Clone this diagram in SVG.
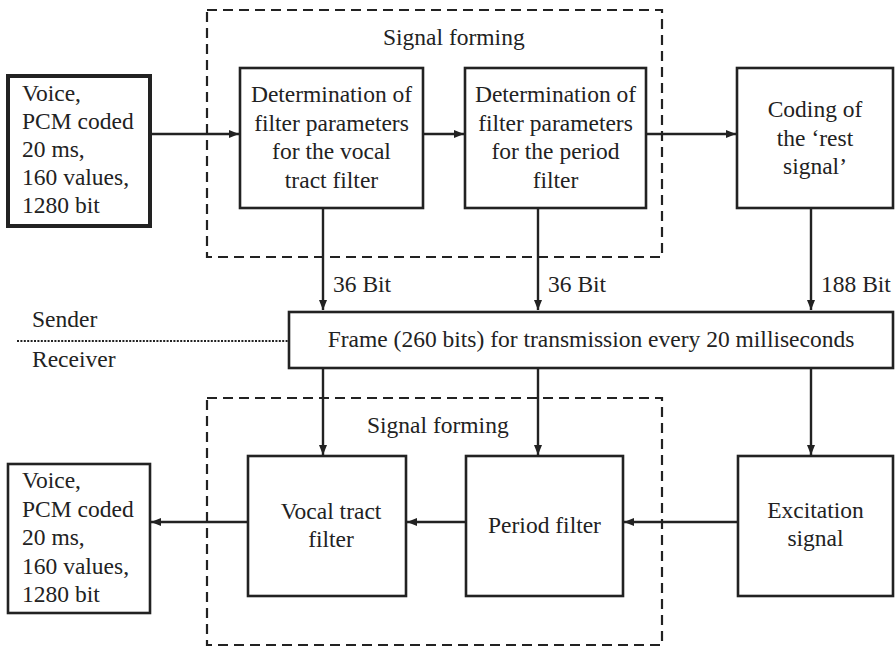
<svg xmlns="http://www.w3.org/2000/svg" width="895" height="647" viewBox="0 0 895 647">
  <defs>
    <marker id="arrow" viewBox="0 0 10 8" refX="10" refY="4" markerWidth="10" markerHeight="8" markerUnits="userSpaceOnUse" orient="auto">
      <path d="M0,0 L10,4 L0,8 z" fill="#222"/>
    </marker>
    <style>
      text { font-family: 'Liberation Serif', 'Times New Roman', serif; font-size: 23.5px; fill: #222; }
      .c { text-anchor: middle; }
      .box { fill: #fff; stroke: #222; stroke-width: 2.6; }
      .thick { stroke-width: 4; }
      .group { fill: none; stroke: #222; stroke-width: 2.2; stroke-dasharray: 10 6; }
      .link { fill: none; stroke: #222; stroke-width: 2.4; marker-end: url(#arrow); }
      .sep { fill: none; stroke: #222; stroke-width: 2; stroke-dasharray: 2 1.4; }
    </style>
  </defs>

  <rect width="895" height="647" fill="#fff"/>

  <!-- signal forming regions -->
  <g id="sender-forming">
    <rect class="group" x="207" y="10" width="455" height="247"/>
    <text x="383" y="45">Signal forming</text>
  </g>
  <g id="receiver-forming">
    <rect class="group" x="207" y="398" width="455" height="247"/>
    <text x="367" y="433">Signal forming</text>
  </g>

  <!-- sender / receiver divider -->
  <g id="divider">
    <line class="sep" x1="17" y1="341" x2="289" y2="341"/>
    <text x="32" y="327">Sender</text>
    <text x="32" y="367">Receiver</text>
  </g>

  <!-- connectors -->
  <g id="connectors">
    <line class="link" x1="150" y1="134" x2="239" y2="134"/>
    <line class="link" x1="423" y1="134" x2="464" y2="134"/>
    <line class="link" x1="646" y1="134" x2="736" y2="134"/>
    <line class="link" x1="323" y1="208" x2="323" y2="310"/>
    <line class="link" x1="538" y1="208" x2="538" y2="310"/>
    <line class="link" x1="811" y1="208" x2="811" y2="310"/>
    <line class="link" x1="323" y1="368" x2="323" y2="455"/>
    <line class="link" x1="538" y1="368" x2="538" y2="455"/>
    <line class="link" x1="811" y1="368" x2="811" y2="455"/>
    <line class="link" x1="738" y1="522" x2="624" y2="522"/>
    <line class="link" x1="466" y1="522" x2="407" y2="522"/>
    <line class="link" x1="248" y1="522" x2="151" y2="522"/>
    <text x="333" y="292">36 Bit</text>
    <text x="548" y="292">36 Bit</text>
    <text x="821" y="292">188 Bit</text>
  </g>

  <!-- sender side -->
  <g id="voice-in">
    <rect class="box thick" x="8" y="76" width="142" height="150"/>
    <text x="22" y="101">Voice,</text>
    <text x="22" y="129">PCM coded</text>
    <text x="22" y="157">20 ms,</text>
    <text x="22" y="185">160 values,</text>
    <text x="22" y="213">1280 bit</text>
  </g>
  <g id="vocal-params">
    <rect class="box" x="240" y="68" width="183" height="140"/>
    <text class="c" x="331.5" y="102">Determination of</text>
    <text class="c" x="331.5" y="130.5">filter parameters</text>
    <text class="c" x="331.5" y="159">for the vocal</text>
    <text class="c" x="331.5" y="188">tract filter</text>
  </g>
  <g id="period-params">
    <rect class="box" x="465" y="68" width="181" height="140"/>
    <text class="c" x="555.5" y="102">Determination of</text>
    <text class="c" x="555.5" y="130.5">filter parameters</text>
    <text class="c" x="555.5" y="159">for the period</text>
    <text class="c" x="555.5" y="188">filter</text>
  </g>
  <g id="rest-coding">
    <rect class="box" x="737" y="68" width="156" height="140"/>
    <text class="c" x="815" y="117">Coding of</text>
    <text class="c" x="815" y="146">the ‘rest</text>
    <text class="c" x="815" y="174">signal’</text>
  </g>

  <!-- transmission frame -->
  <g id="frame">
    <rect class="box" x="289" y="312" width="604" height="56"/>
    <text class="c" x="591" y="347">Frame (260 bits) for transmission every 20 milliseconds</text>
  </g>

  <!-- receiver side -->
  <g id="vocal-filter">
    <rect class="box" x="248" y="456" width="158" height="140"/>
    <text class="c" x="331" y="519">Vocal tract</text>
    <text class="c" x="331" y="547">filter</text>
  </g>
  <g id="period-filter">
    <rect class="box" x="466" y="456" width="157" height="140"/>
    <text class="c" x="544.5" y="533">Period filter</text>
  </g>
  <g id="excitation">
    <rect class="box" x="738" y="456" width="155" height="140"/>
    <text class="c" x="815.5" y="518">Excitation</text>
    <text class="c" x="815.5" y="546">signal</text>
  </g>
  <g id="voice-out">
    <rect class="box" x="8" y="464" width="142" height="149"/>
    <text x="22" y="488">Voice,</text>
    <text x="22" y="517">PCM coded</text>
    <text x="22" y="545">20 ms,</text>
    <text x="22" y="574">160 values,</text>
    <text x="22" y="602">1280 bit</text>
  </g>
</svg>
